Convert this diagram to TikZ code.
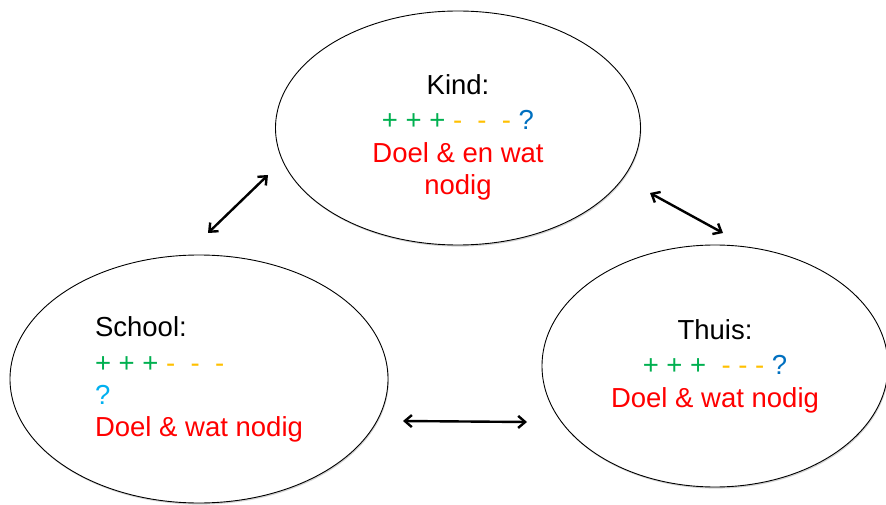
\documentclass[tikz,border=0pt]{standalone}
\usepackage{fontspec}
\setmainfont{Liberation Sans}
\usepackage{tikz}
\usetikzlibrary{shapes,arrows.meta,shadows}

\definecolor{plusgreen}{HTML}{00B050}
\definecolor{mingold}{HTML}{FFC000}
\definecolor{vraagblue}{HTML}{0070C0}
\definecolor{vraaglight}{HTML}{00B0F0}
\definecolor{doelred}{HTML}{FF0000}

\newcommand{\plus}[1]{\textcolor{plusgreen}{#1}}
\newcommand{\mins}[1]{\textcolor{mingold}{#1}}
\newcommand{\doel}[1]{\textcolor{doelred}{#1}}

\begin{document}
\begin{tikzpicture}[x=1pt,y=-1pt,
        bubble/.style = {
            ellipse,
            draw,
            line width=0.9pt,
            fill=white,
            drop shadow={shadow xshift=0.8pt, shadow yshift=-1.6pt, opacity=0.35, fill=gray},
            inner sep=0pt,
            font=\fontsize{27.5}{32}\selectfont
        },
        link/.style = {
            {Straight Barb[length=7pt,width=12pt]}-{Straight Barb[length=7pt,width=12pt]},
            line width=2.4pt
        }]

        \useasboundingbox (0,0) rectangle (886,505);

        \node[bubble, minimum width=365pt, minimum height=234pt, align=center] (kind) at (458,128)
            {\rule{0pt}{38pt}Kind:\\[3pt]
             \plus{+ + +} \mins{-\ \ -\ \ -} \textcolor{vraagblue}{?}\\[1pt]
             \doel{Doel \& en wat}\\
             \doel{nodig}};
        \node[bubble, minimum width=378pt, minimum height=248pt, align=left] (school) at (199,379)
            {School:\\[4pt]
             \plus{+ + +} \mins{-\ \ -\ \ -}\\
             \textcolor{vraaglight}{?}\\
             \doel{Doel \& wat nodig}};
        \node[bubble, minimum width=346pt, minimum height=242pt, align=center] (thuis) at (715,366)
            {Thuis:\\[3pt]
             \plus{+ + +}\ \ \mins{- - -} \textcolor{vraagblue}{?}\\[1pt]
             \doel{Doel \& wat nodig}};

        % ends of the arrows
        \coordinate (ks) at (208,233);
        \coordinate (kk) at (268,175);
        \coordinate (kt) at (650,193);
        \coordinate (tk) at (723,233);
        \coordinate (st) at (403,421);
        \coordinate (ts) at (527,422);

        \draw[link] (ks) -- (kk);
        \draw[link] (kt) -- (tk);
        \draw[link] (st) -- (ts);
    \end{tikzpicture}
\end{document}
